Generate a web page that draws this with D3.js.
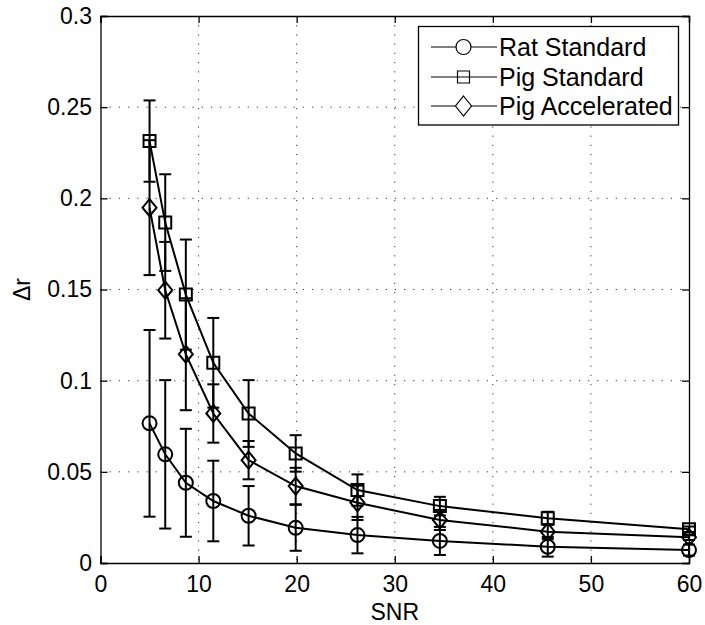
<!DOCTYPE html>
<html>
<head>
<meta charset="utf-8">
<script src="https://cdn.jsdelivr.net/npm/d3@7"></script>
<style>
  body { margin: 0; background: #fff; }
  text { font-family: "Liberation Sans", Arial, sans-serif; }
</style>
</head>
<body>
<script>
// data
const snr = [5, 6.6, 8.7, 11.5, 15.1, 19.9, 26.2, 34.6, 45.6, 60];

const ratMean = [0.0766, 0.0596, 0.044, 0.034, 0.0259, 0.0193, 0.0153, 0.0121, 0.0089, 0.0071];
const ratErr  = [0.0512, 0.0407, 0.0296, 0.0221, 0.0163, 0.0126, 0.0100, 0.0077, 0.0054, 0.0030];

const pigStdMean = [0.2314, 0.1867, 0.1472, 0.1098, 0.0820, 0.0601, 0.0400, 0.0312, 0.0245, 0.0185];
const pigStdErr  = [0.0223, 0.0265, 0.0302, 0.0246, 0.0183, 0.0100, 0.0086, 0.0051, 0.0036, 0.0015];

const pigAccMean = [0.1949, 0.1496, 0.1145, 0.0820, 0.0564, 0.0422, 0.0330, 0.0236, 0.0172, 0.0141];
const pigAccErr  = [0.0370, 0.0265, 0.0307, 0.0160, 0.0105, 0.0100, 0.0094, 0.0055, 0.0040, 0.0015];

const seriesNames = ['Rat Standard', 'Pig Standard', 'Pig Accelerated'];
const markerTypes = ['circle', 'square', 'diamond'];

const xTicks = [0, 10, 20, 30, 40, 50, 60];
const yTicks = [0, 0.05, 0.1, 0.15, 0.2, 0.25, 0.3];

const series = [
    { name: seriesNames[0], marker: markerTypes[0], mean: ratMean, err: ratErr },
    { name: seriesNames[1], marker: markerTypes[1], mean: pigStdMean, err: pigStdErr },
    { name: seriesNames[2], marker: markerTypes[2], mean: pigAccMean, err: pigAccErr }
];

const W = 705, H = 625;
const margin = { top: 16, right: 16, bottom: 62, left: 100.5 };
const width = W - margin.left - margin.right;
const height = H - margin.top - margin.bottom;
const fontSize = 23;

const svg = d3.select('body').append('svg')
    .attr('width', W)
    .attr('height', H);

svg.append('rect').attr('width', W).attr('height', H).attr('fill', 'white');

const g = svg.append('g')
    .attr('transform', `translate(${margin.left},${margin.top})`);

const x = d3.scaleLinear().domain([0, 60]).range([0, width]);
const y = d3.scaleLinear().domain([0, 0.3]).range([height, 0]);

// dotted grid
const grid = g.append('g').attr('class', 'grid');
grid.selectAll('line.gx')
    .data(xTicks.slice(1, -1))
    .join('line')
    .attr('x1', d => x(d)).attr('x2', d => x(d))
    .attr('y1', 0).attr('y2', height);
grid.selectAll('line.gy')
    .data(yTicks.slice(1, -1))
    .join('line')
    .attr('class', 'gy')
    .attr('x1', 0).attr('x2', width)
    .attr('y1', d => y(d)).attr('y2', d => y(d));
grid.selectAll('line')
    .attr('stroke', '#333')
    .attr('stroke-width', 1)
    .attr('stroke-dasharray', '1.2,8');

// markers
function markerPath(type, s) {
    if (type === 'circle') return d3.symbol(d3.symbolCircle, Math.PI * s.r * s.r)();
    if (type === 'square') return `M${-s.h},${-s.h}H${s.h}V${s.h}H${-s.h}Z`;
    return `M0,${-s.dy}L${s.dx},0L0,${s.dy}L${-s.dx},0Z`;
}
const plotSize = { r: 7, h: 6, dx: 7, dy: 8.5 };
const legendSize = { r: 7.5, h: 6, dx: 8, dy: 10 };

const line = d3.line()
    .x((d, i) => x(snr[i]))
    .y(d => y(d));

const capHalf = 6;

series.forEach(s => {
    const sg = g.append('g');
    // error bars
    const eb = sg.append('g')
        .attr('stroke', '#000')
        .attr('stroke-width', 2);
    s.mean.forEach((m, i) => {
        const cx = x(snr[i]);
        const y1 = y(m + s.err[i]);
        const y0 = y(m - s.err[i]);
        eb.append('line').attr('x1', cx).attr('x2', cx).attr('y1', y1).attr('y2', y0);
        eb.append('line').attr('x1', cx - capHalf).attr('x2', cx + capHalf).attr('y1', y1).attr('y2', y1);
        eb.append('line').attr('x1', cx - capHalf).attr('x2', cx + capHalf).attr('y1', y0).attr('y2', y0);
    });
    // connecting line
    sg.append('path')
        .datum(s.mean)
        .attr('fill', 'none')
        .attr('stroke', '#000')
        .attr('stroke-width', 2)
        .attr('d', line);
    // markers
    sg.selectAll('path.mk')
        .data(s.mean)
        .join('path')
        .attr('class', 'mk')
        .attr('transform', (d, i) => `translate(${x(snr[i])},${y(d)})`)
        .attr('d', markerPath(s.marker, plotSize))
        .attr('fill', 'none')
        .attr('stroke', '#000')
        .attr('stroke-width', 2);
});

// axes, ticks inside on all four sides
const tickLen = 7;
const xAxis = g.append('g')
    .attr('transform', `translate(0,${height})`)
    .call(d3.axisBottom(x).tickValues(xTicks).tickSize(-tickLen).tickPadding(12.5).tickFormat(d3.format('d')));
const yAxis = g.append('g')
    .call(d3.axisLeft(y).tickValues(yTicks).tickSize(-tickLen).tickPadding(8.5).tickFormat(d => d === 0 ? '0' : String(+d.toFixed(2))));
g.append('g')
    .call(d3.axisTop(x).tickValues(xTicks).tickSize(-tickLen).tickFormat(''));
g.append('g')
    .attr('transform', `translate(${width},0)`)
    .call(d3.axisRight(y).tickValues(yTicks).tickSize(-tickLen).tickFormat(''));

g.selectAll('.domain').attr('stroke', '#000').attr('stroke-width', 1.3);
g.selectAll('.tick line').attr('stroke', '#000').attr('stroke-width', 1.3);
g.selectAll('.tick text')
    .attr('fill', '#000')
    .style('font-size', fontSize + 'px')
    .style('font-family', '"Liberation Sans", Arial, sans-serif');

// axis labels
g.append('text')
    .attr('x', width / 2)
    .attr('y', height + 57)
    .attr('text-anchor', 'middle')
    .style('font-size', fontSize + 'px')
    .text('SNR');

g.append('text')
    .attr('transform', `translate(${30 - margin.left},${height / 2}) rotate(-90)`)
    .attr('text-anchor', 'middle')
    .style('font-size', fontSize + 'px')
    .text('Δr');

// legend
const lg = svg.append('g').attr('transform', 'translate(418.5,26.5)');
lg.append('rect')
    .attr('width', 260)
    .attr('height', 98.5)
    .attr('fill', 'white')
    .attr('stroke', '#000')
    .attr('stroke-width', 1.3);

const rowY = [20.5, 50.5, 79.5];
series.forEach((s, i) => {
    const row = lg.append('g').attr('transform', `translate(0,${rowY[i]})`);
    row.append('line')
        .attr('x1', 12.5).attr('x2', 78.5)
        .attr('y1', 0).attr('y2', 0)
        .attr('stroke', '#000').attr('stroke-width', 1.2);
    row.append('path')
        .attr('transform', 'translate(45,0)')
        .attr('d', markerPath(s.marker, legendSize))
        .attr('fill', s.marker === 'square' ? 'none' : 'white')
        .attr('stroke', '#000')
        .attr('stroke-width', 1.2);
    row.append('text')
        .attr('x', 80.5)
        .attr('y', 8.6)
        .style('font-size', '25px')
        .text(s.name);
});
</script>
</body>
</html>
